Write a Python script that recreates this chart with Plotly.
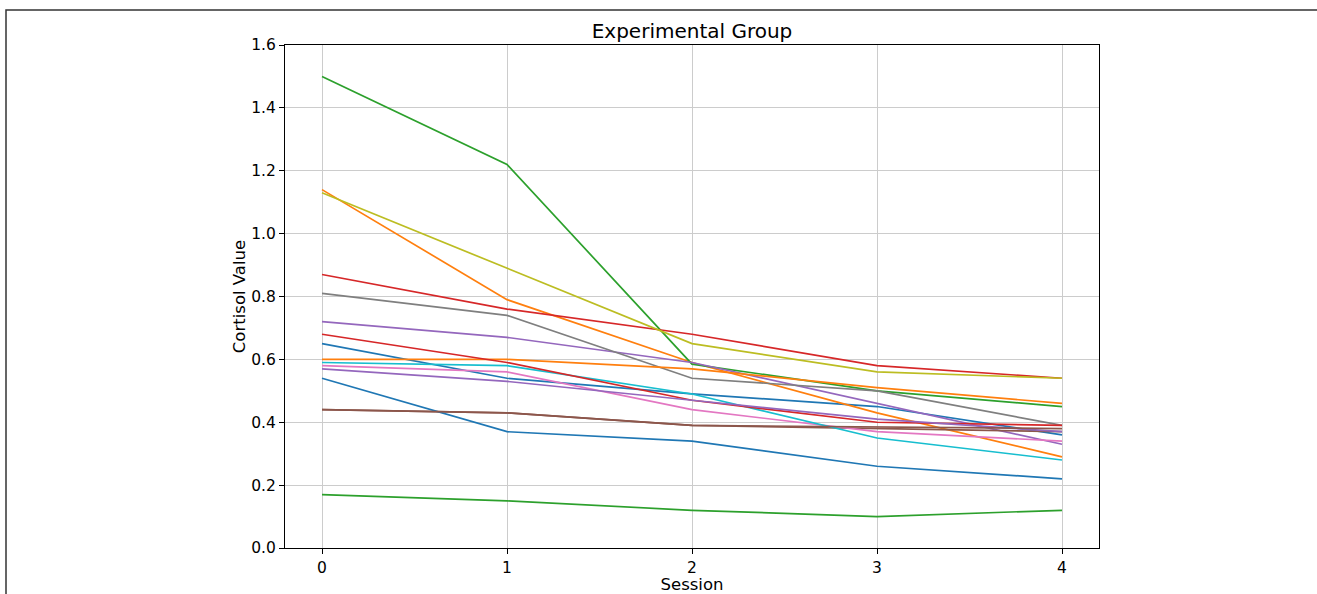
import plotly.graph_objects as go

sessions = [0, 1, 2, 3, 4]

blue_a = [0.65, 0.54, 0.49, 0.45, 0.36]
orange_a = [1.14, 0.79, 0.59, 0.43, 0.29]
green_a = [1.50, 1.22, 0.585, 0.50, 0.45]
red_a = [0.87, 0.76, 0.68, 0.58, 0.54]
purple_a = [0.72, 0.67, 0.59, 0.46, 0.33]
brown_a = [0.44, 0.43, 0.39, 0.38, 0.37]
pink_a = [0.58, 0.56, 0.44, 0.37, 0.34]
gray_a = [0.81, 0.74, 0.54, 0.50, 0.39]
olive_a = [1.13, 0.89, 0.65, 0.56, 0.54]
cyan_a = [0.59, 0.58, 0.49, 0.35, 0.28]
blue_b = [0.54, 0.37, 0.34, 0.26, 0.22]
orange_b = [0.60, 0.60, 0.57, 0.51, 0.46]
green_b = [0.17, 0.15, 0.12, 0.10, 0.12]
red_b = [0.68, 0.59, 0.47, 0.40, 0.39]
purple_b = [0.57, 0.53, 0.47, 0.41, 0.37]
brown_b = [0.44, 0.43, 0.39, 0.385, 0.38]

series = [blue_a, orange_a, green_a, red_a, purple_a, brown_a, pink_a, gray_a,
          olive_a, cyan_a, blue_b, orange_b, green_b, red_b, purple_b, brown_b]
colors = ["#1f77b4", "#ff7f0e", "#2ca02c", "#d62728", "#9467bd", "#8c564b",
          "#e377c2", "#7f7f7f", "#bcbd22", "#17becf"]

fig = go.Figure()
for i, s in enumerate(series):
    fig.add_trace(go.Scatter(x=sessions, y=s, mode="lines",
                             line=dict(color=colors[i % 10], width=1.7),
                             showlegend=False))

W, H = 1317, 594
L, R, T, B = 285, 1099, 45, 548
pw, ph = R - L, B - T

axis_common = dict(showline=True, linecolor="black", linewidth=1, mirror=True,
                   ticks="outside", ticklen=5, tickcolor="black", automargin=False,
                   showgrid=True, gridcolor="#cccccc", gridwidth=1, zeroline=False,
                   tickfont=dict(family="DejaVu Sans", size=15.5, color="black"))

fig.update_layout(
    width=W, height=H,
    margin=dict(l=L, r=W - R, t=T, b=H - B, autoexpand=False),
    plot_bgcolor="white", paper_bgcolor="white",
    font=dict(family="DejaVu Sans", color="black"),
    title=dict(text="Experimental Group", x=(L + pw / 2) / W, xanchor="center",
               y=1 - 31 / H, yanchor="middle", font=dict(size=20, family="DejaVu Sans")),
    xaxis=dict(range=[-0.2, 4.2], tickvals=sessions,
               title=dict(text="Session", font=dict(size=16.5), standoff=2), **axis_common),
    yaxis=dict(range=[0, 1.6], dtick=0.2, tickformat=".1f",
               title=dict(text="Cortisol Value", font=dict(size=16.5), standoff=1), **axis_common),
    shapes=[dict(type="rect", xref="paper", yref="paper",
                 x0=(6 - L) / pw, x1=(1330 - L) / pw,
                 y0=(B - 610) / ph, y1=(B - 10) / ph,
                 line=dict(color="#333333", width=1.5), layer="below")],
)

fig.write_html("out.html", config={"displayModeBar": False},
               post_script="document.body.style.margin='0';document.body.style.overflow='hidden';")
